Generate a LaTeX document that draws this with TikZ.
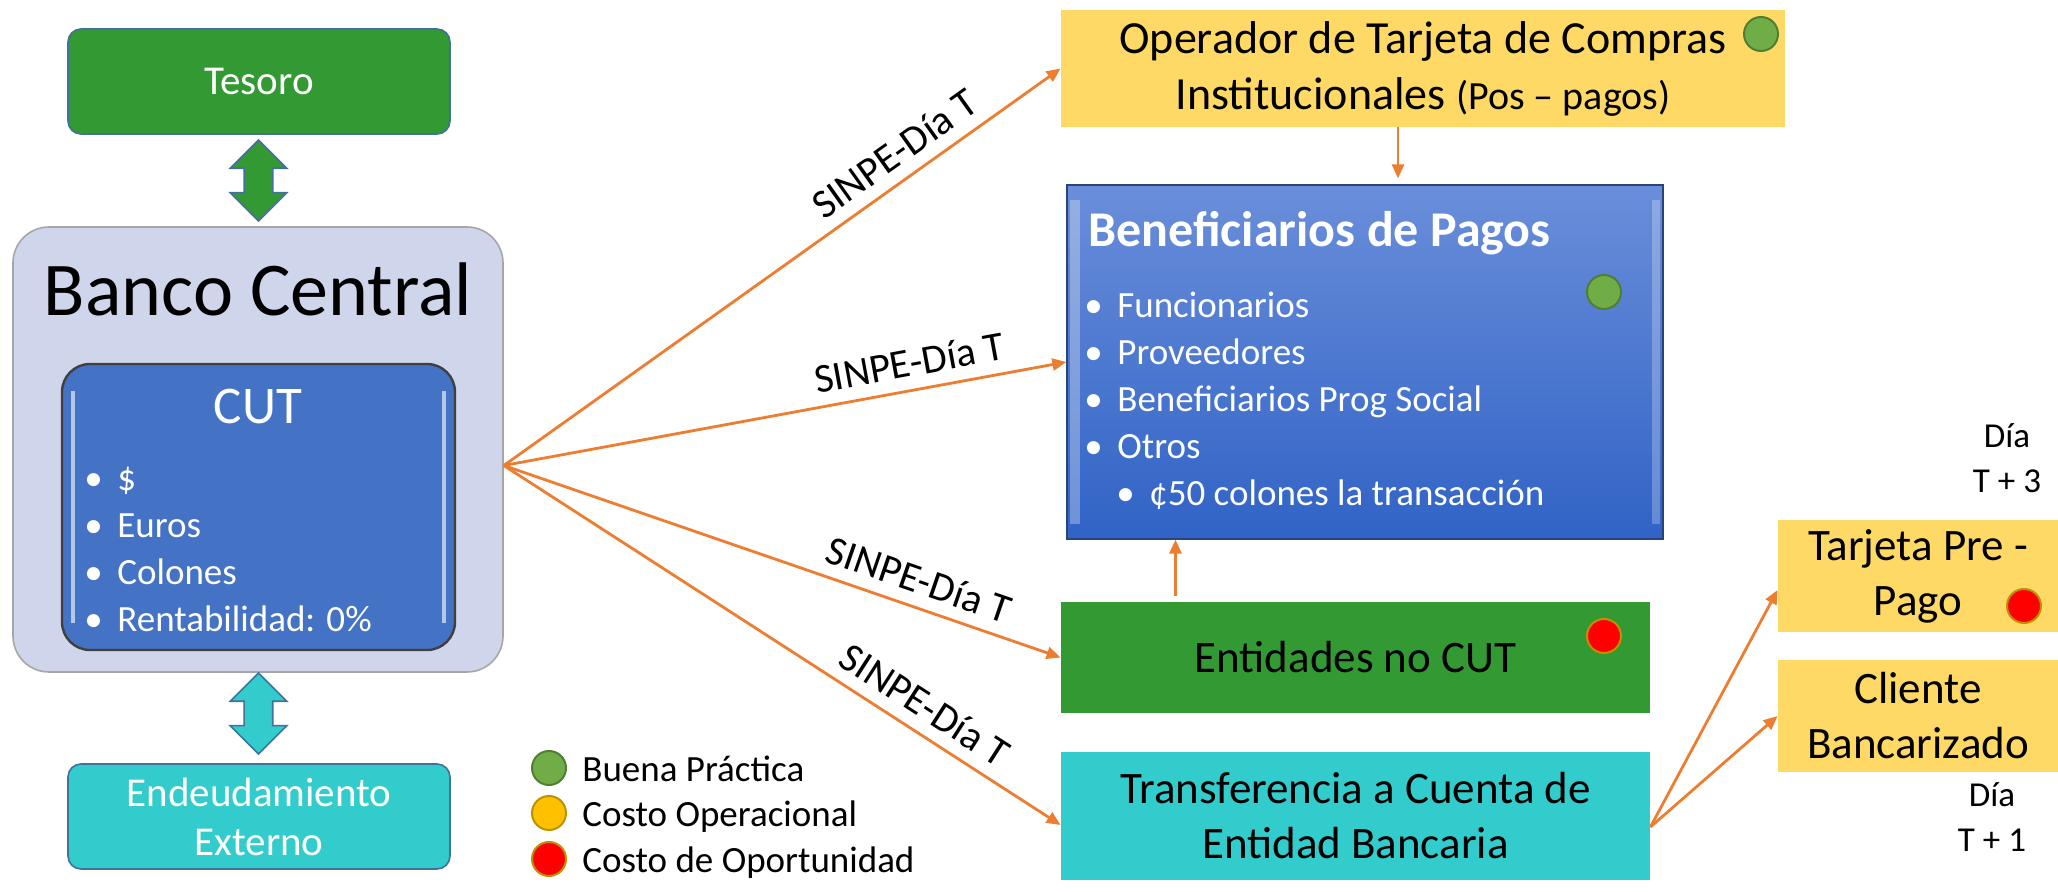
\documentclass[tikz,border=0pt]{standalone}
\usepackage{fontspec}
\setmainfont{Carlito}
\usetikzlibrary{calc,positioning,shapes.arrows,arrows.meta}
\definecolor{tesgreen}{HTML}{339933}
\definecolor{tescyan}{HTML}{33CCCC}
\definecolor{paleblue}{HTML}{CFD5EA}
\definecolor{cutblue}{HTML}{4472C4}
\definecolor{bftop}{HTML}{6A8EDA}
\definecolor{bfbottom}{HTML}{3063C6}
\definecolor{gold}{HTML}{FFD966}
\definecolor{sinpeorange}{HTML}{ED7D31}
\definecolor{edgeblue}{HTML}{41719C}
\definecolor{dotgreen}{HTML}{70AD47}
\definecolor{dotgreenline}{HTML}{507E32}
\definecolor{dotyellow}{HTML}{FFC000}
\definecolor{dotred}{HTML}{FF0000}
\definecolor{dotline}{HTML}{BF9000}
\newcommand{\bulitem}[1]{\makebox[16.5pt][l]{\textbullet}#1}
\tikzset{round box/.style={rectangle, rounded corners=6.5pt, draw=edgeblue, line width=0.8pt,
    minimum width=191pt, minimum height=52.5pt, text=white, align=center,
    font=\fontsize{20.5}{24.5}\selectfont},
  flat box/.style={rectangle, inner sep=0pt, align=center, font=\fontsize{22.5}{27.5}\selectfont},
  double way/.style={shape=double arrow, rotate=90, draw=edgeblue, line width=0.8pt,
    minimum height=40.5pt, inner sep=6.75pt, double arrow head extend=7pt},
  status dot/.style={circle, inner sep=0pt, minimum size=17pt, line width=1pt},
  bullet list/.style={anchor=base west, inner sep=0pt, text=white, font=\fontsize{18.5}{23.5}\selectfont},
  sinpe arrow/.style={draw=sinpeorange, line width=1.4pt},
  sinpe label/.style={sloped, above=4pt, pos=0.73, inner sep=2pt, font=\fontsize{20.5}{24}\selectfont},
  day note/.style={anchor=base, inner sep=0pt, font=\fontsize{17.5}{22.5}\selectfont},
  legend text/.style={anchor=base west, inner sep=0pt, font=\fontsize{18.5}{23}\selectfont}}
\begin{document}
\begin{tikzpicture}[x=0.5pt, y=-0.5pt, >={Triangle[length=7pt,width=6pt]}]
\useasboundingbox (0,0) rectangle (2058,892);
% left column
\node[round box, fill=tesgreen] (tes) at (259,81.5) {Tesoro};
\node[rectangle, rounded corners=18pt, fill=paleblue, draw=gray!70, line width=0.8pt,
  minimum width=245pt, minimum height=222.5pt] (bc) at (258,449.5) {};
\node[anchor=base, inner sep=0pt, font=\fontsize{38}{42}\selectfont] (bctitle) at (258,316) {Banco Central};
\node[rectangle, rounded corners=14pt, fill=cutblue, draw=black!75, line width=1.2pt,
  minimum width=196.5pt, minimum height=143pt] (cut) at (258.5,507) {};
\draw[white!60!cutblue, line width=2pt] ([xshift=6pt,yshift=-14pt]cut.north west) -- ([xshift=6pt,yshift=14pt]cut.south west);
\draw[white!60!cutblue, line width=2pt] ([xshift=-6pt,yshift=-14pt]cut.north east) -- ([xshift=-6pt,yshift=14pt]cut.south east);
\node[anchor=base, inner sep=0pt, text=white, font=\fontsize{26.5}{30}\selectfont] (cuttitle) at (258,424) {CUT};
\node[bullet list] (cutlist) at (84,491) {\begin{tabular}[t]{@{}l@{}}
  \bulitem{\$}\\ \bulitem{Euros}\\ \bulitem{Colones}\\ \bulitem{Rentabilidad: 0\%}\end{tabular}};
\node[round box, fill=tescyan] (ext) at (259,816.5) {Endeudamiento\\Externo};
\node[double way, fill=tesgreen] (tesway) at ($(tes.south)!0.5!(bc.north)$) {};
\node[double way, fill=tescyan] (extway) at ($(bc.south)!0.45!(ext.north)$) {};
% right column
\node[flat box, fill=gold, minimum width=362pt, minimum height=58.5pt, font=\fontsize{23}{28}\selectfont] (op) at (1423,68.5)
  {Operador de Tarjeta de Compras\\Institucionales {\fontsize{20}{28}\selectfont(Pos – pagos)}};
\node[flat box, top color=bftop, bottom color=bfbottom, draw=cutblue!60!black, line width=0.6pt,
  minimum width=298pt, minimum height=177pt] (bf) at (1365,362) {};
\fill[white, opacity=0.3] ([xshift=2pt,yshift=-8pt]bf.north west) rectangle ([xshift=7pt,yshift=8pt]bf.south west);
\fill[white, opacity=0.25] ([xshift=-2pt,yshift=-8pt]bf.north east) rectangle ([xshift=-6pt,yshift=8pt]bf.south east);
\node[anchor=base west, inner sep=0pt, text=white, font=\bfseries\fontsize{25}{30}\selectfont] (bftitle) at (1088,247) {Beneficiarios de Pagos};
\node[bullet list] (bflist) at (1084,318) {\begin{tabular}[t]{@{}l@{}}
  \bulitem{Funcionarios}\\ \bulitem{Proveedores}\\ \bulitem{Beneficiarios Prog Social}\\ \bulitem{Otros}\\
  \hspace{16pt}\bulitem{¢50 colones la transacción}\end{tabular}};
\node[flat box, fill=tesgreen, minimum width=294.5pt, minimum height=55.5pt] (ent) at (1355.5,657.5) {Entidades no CUT};
\node[flat box, fill=tescyan, minimum width=294.5pt, minimum height=64pt] (tr) at (1355.5,816) {Transferencia a Cuenta de\\Entidad Bancaria};
\node[flat box, fill=gold, minimum width=140pt, minimum height=56pt] (tp) at (1918,576) {Tarjeta Pre -\\Pago};
\node[flat box, fill=gold, minimum width=140pt, minimum height=56pt] (cb) at (1918,716) {Cliente\\Bancarizado};
\node[day note] (day3) at (2007,448) {\begin{tabular}[t]{@{}c@{}}Día\\T + 3\end{tabular}};
\node[day note] (day1) at (1992,807) {\begin{tabular}[t]{@{}c@{}}Día\\T + 1\end{tabular}};
% status dots
\node[status dot, fill=dotgreen, draw=dotgreenline] (opdot) at (1761,34) {};
\node[status dot, fill=dotgreen, draw=dotgreenline] (bfdot) at (1604,292) {};
\node[status dot, fill=dotred, draw=dotline] (entdot) at (1604,636) {};
\node[status dot, fill=dotred, draw=dotline] (tpdot) at (2024,606) {};
% legend
\node[status dot, fill=dotgreen, draw=dotgreenline] (lgood) at (549,768) {};
\node[status dot, fill=dotyellow, draw=dotline] (lcost) at (549,813) {};
\node[status dot, fill=dotred, draw=dotline] (lopp) at (549,859) {};
\node[legend text] (lgoodt) at (582,782) {Buena Práctica};
\node[legend text] (lcostt) at (582,827) {Costo Operacional};
\node[legend text] (loppt) at (582,872) {Costo de Oportunidad};
% connectors
\coordinate (fan) at ([yshift=-8pt]bc.east);
\path[->]
  (fan) edge[sinpe arrow] node[sinpe label] {SINPE-Día T} (op.west)
  (fan) edge[sinpe arrow] node[sinpe label] {SINPE-Día T} (bf.west)
  (fan) edge[sinpe arrow] node[sinpe label] {SINPE-Día T} (ent.west)
  (fan) edge[sinpe arrow] node[sinpe label] {SINPE-Día T} ([yshift=-4.5pt]tr.west);
\coordinate (opdown) at ([xshift=-12.5pt]op.south);
\coordinate (entup) at ([xshift=-90pt]ent.north);
\coordinate (trout) at ([yshift=-5.5pt]tr.east);
\path[->]
  (opdown) edge[sinpe arrow, shorten >=3pt] (opdown |- bf.north)
  (entup) edge[sinpe arrow, shorten <=3pt] (entup |- bf.south)
  (trout) edge[sinpe arrow] ([yshift=-7pt]tp.west)
  (trout) edge[sinpe arrow] (cb.west);
\end{tikzpicture}
\end{document}
